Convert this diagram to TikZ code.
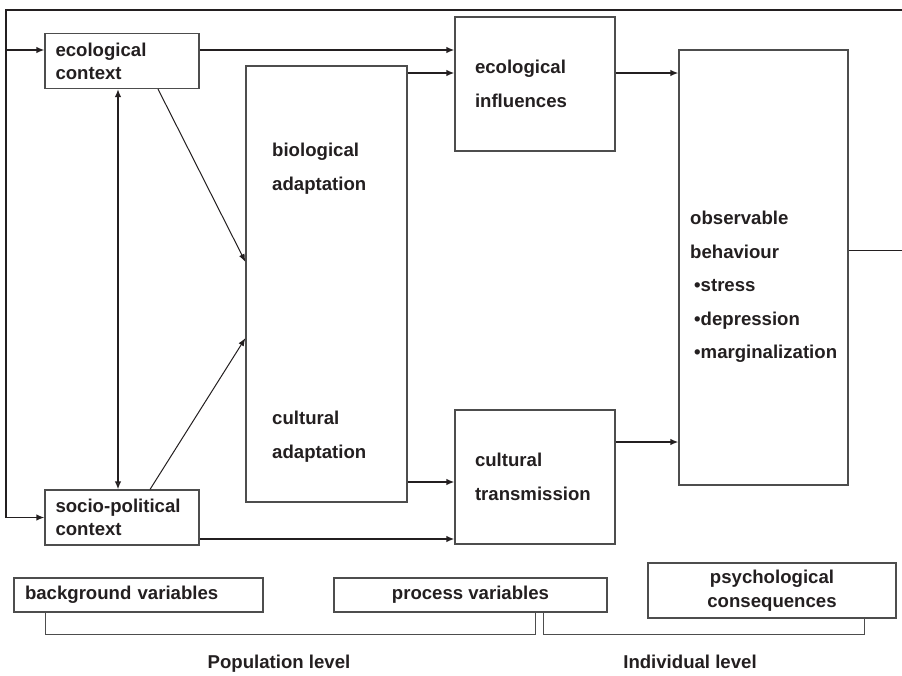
\documentclass[tikz,border=0pt]{standalone}
\usepackage{fontspec}
\usetikzlibrary{arrows.meta}
\setmainfont{Liberation Sans}
\definecolor{ink}{HTML}{231F20}
\definecolor{rim}{HTML}{4D4D4D}

\tikzstyle{box} = [draw = rim, line width = 1.1pt, text = ink, inner sep = 0pt, font = \bfseries\fontsize{18.6}{33.5}\selectfont]
\tikzstyle{pair} = [box, font = \bfseries\fontsize{18.6}{23}\selectfont, align = left, text width = 133pt, inner xsep = 10.5pt, minimum height = 55pt]
\tikzstyle{stage} = [box, align = left, text width = 120pt, inner xsep = 20pt, minimum height = 134pt]
\tikzstyle{tag} = [text = ink, inner sep = 0pt, font = \bfseries\fontsize{18.6}{33.5}\selectfont, align = left, anchor = north west]
\tikzstyle{flow} = [-{Latex[length = 8pt, width = 6.5pt]}, line width = 2pt, draw = ink]
\tikzstyle{slant} = [-{Latex[length = 8pt, width = 6pt]}, line width = 1pt, draw = ink]

\begin{document}
\begin{tikzpicture}[x = 1pt, y = -1pt]
	\useasboundingbox (0, 0) rectangle (902, 675);

		\node [pair] at (122, 61) (ecoctx) {ecological\\context};
		\node [pair] at (122, 517.5) (socpol) {socio-political\\context};
		\node [box, minimum width = 161pt, minimum height = 436pt] at (326.5, 284) (bioad) {};
		\node [stage] at (535, 84) (ecoinf) {ecological\\influences};
		\node [stage] at (535, 477) (cultr) {cultural\\transmission};
		\node [box, minimum width = 169pt, minimum height = 435pt] at (763.5, 267.5) (obsbeh) {};

		\node [tag] at (272, 143) (bioadtop) {biological\\adaptation};
		\node [tag] at (272, 411) (bioadlow) {cultural\\adaptation};
		\node [tag] at (690, 211) (obsbehtxt) {observable\\behaviour\\\hspace*{4pt}•stress\\\hspace*{4pt}•depression\\\hspace*{4pt}•marginalization};

		\coordinate (cornerTL) at (6, 10);
		\coordinate (edgeTR) at (902, 10);
		\coordinate (edgeR) at (902, 250);
		\coordinate (branchL) at (6, 50);

  		\draw [flow, line width = 1.5pt] (edgeTR) -- (cornerTL) |- (socpol.west);
  		\draw [flow, line width = 1.5pt] (branchL) -- ([yshift = 11pt]ecoctx.west);
  		\draw [line width = 1pt, draw = ink] ([yshift = 17.5pt]obsbeh.east) -- (edgeR);

  		\draw [{Latex[open, length = 8pt, width = 6.5pt]}-{Latex[length = 8pt, width = 6.5pt]}, line width = 2pt, draw = ink] ([xshift = -4pt]socpol.north) -- ([xshift = -4pt]ecoctx.south);
  		\draw [slant] ([xshift = 36pt]ecoctx.south) -- ([yshift = 22pt]bioad.west);
  		\draw [slant] ([xshift = 28pt]socpol.north) -- ([yshift = -54pt]bioad.west);

  		\draw [flow] ([yshift = 11pt]ecoctx.east) -- ([yshift = 34pt]ecoinf.west);
  		\draw [flow] ([yshift = 211pt]bioad.east) -- ([yshift = 11pt]ecoinf.west);
  		\draw [flow] ([yshift = 11pt]ecoinf.east) -- ([yshift = 194.5pt]obsbeh.west);
  		\draw [flow] ([yshift = -198pt]bioad.east) -- ([yshift = -5pt]cultr.west);
  		\draw [flow] ([yshift = -21.5pt]socpol.east) -- ([yshift = -62pt]cultr.west);
  		\draw [flow] ([yshift = 35pt]cultr.east) -- ([yshift = -174.5pt]obsbeh.west);

		\node [box, align = left, text width = 227pt, inner xsep = 11pt, minimum height = 34pt] at (138.5, 595) (bgvar) {background variables};
		\node [box, minimum width = 273pt, minimum height = 34pt] at (470.5, 595) (procvar) {process variables};
		\node [box, align = center, font = \bfseries\fontsize{18.6}{24}\selectfont, minimum width = 248pt, minimum height = 55pt] at (772, 590.5) (psych) {psychological\\consequences};

  		\draw [line width = 1pt, draw = rim] ([xshift = -93.5pt]bgvar.south) -- ++(0, 22) -| ([xshift = 64.5pt]procvar.south);
  		\draw [line width = 1pt, draw = rim] ([xshift = 72.5pt]procvar.south) -- ++(0, 22) -| ([xshift = 92pt]psych.south);

		\node [text = ink, inner sep = 0pt, font = \bfseries\fontsize{18.6}{22}\selectfont, anchor = base] at (279, 668) (poplev) {Population level};
		\node [text = ink, inner sep = 0pt, font = \bfseries\fontsize{18.6}{22}\selectfont, anchor = base] at (690, 668) (indlev) {Individual level};
	\end{tikzpicture}
\end{document}
